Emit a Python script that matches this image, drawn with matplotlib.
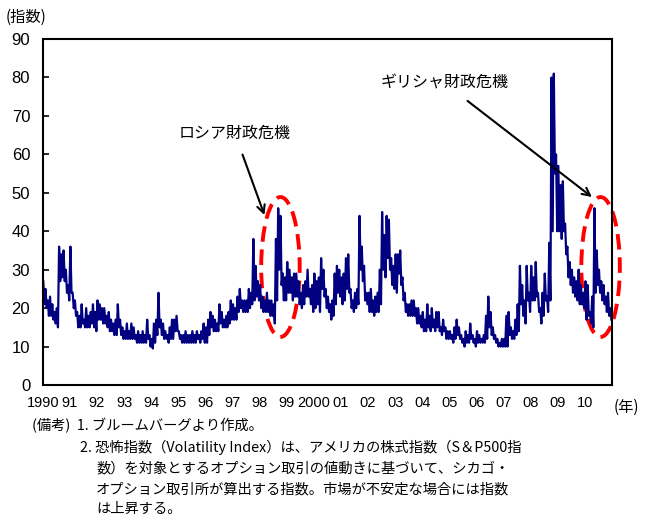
import matplotlib.pyplot as plt
import numpy as np
from matplotlib.patches import Ellipse

plt.rcParams['font.family'] = ['Noto Sans CJK JP', 'DejaVu Sans']

# VIX: two values per month (high, low), Jan..Dec
vix_1990 = [27, 21, 25, 20, 22, 18, 23, 18, 21, 17, 19, 16, 20, 15, 36, 27, 34, 28, 35, 27, 30, 24, 26, 22]
vix_1991 = [36, 24, 24, 20, 22, 18, 19, 15, 18, 15, 21, 16, 17, 15, 20, 15, 18, 15, 19, 16, 21, 15, 19, 14]
vix_1992 = [22, 17, 21, 17, 20, 16, 20, 16, 18, 15, 19, 14, 17, 14, 16, 13, 17, 13, 21, 15, 17, 13, 15, 12]
vix_1993 = [14, 12, 16, 12, 14, 12, 16, 12, 15, 12, 13, 11, 14, 11, 13, 11, 14, 11, 13, 11, 17, 12, 13, 10]
vix_1994 = [12, 9.5, 16, 11, 17, 13, 24, 15, 17, 13, 16, 12, 14, 12, 13, 11, 15, 12, 17, 12, 17, 14, 18, 14]
vix_1995 = [14, 12, 13, 11, 13, 11, 14, 11, 13, 11, 13, 11, 14, 11, 13, 11, 14, 12, 13, 11, 14, 12, 16, 11]
vix_1996 = [15, 11, 17, 13, 19, 15, 18, 14, 17, 14, 16, 14, 21, 16, 19, 15, 17, 15, 18, 15, 19, 16, 22, 17]
vix_1997 = [21, 17, 20, 17, 23, 19, 25, 20, 22, 19, 22, 19, 22, 19, 25, 20, 24, 21, 38, 22, 31, 23, 27, 22]
vix_1998 = [26, 20, 23, 19, 22, 19, 24, 19, 22, 18, 22, 18, 21, 16, 38, 22, 46, 30, 44, 26, 29, 22, 28, 22]
vix_1999 = [32, 24, 30, 24, 28, 22, 29, 23, 29, 23, 27, 21, 24, 20, 26, 21, 27, 23, 30, 23, 25, 21, 26, 19]
vix_2000 = [29, 20, 27, 21, 28, 19, 33, 25, 30, 23, 25, 20, 23, 19, 21, 17, 22, 18, 29, 21, 31, 24, 30, 23]
vix_2001 = [28, 21, 29, 22, 33, 25, 34, 24, 25, 20, 22, 19, 24, 20, 25, 21, 44, 30, 36, 27, 31, 22, 24, 21]
vix_2002 = [24, 19, 25, 19, 22, 18, 23, 19, 24, 19, 30, 21, 45, 30, 39, 28, 44, 33, 43, 30, 33, 26, 31, 25]
vix_2003 = [34, 24, 34, 29, 35, 26, 28, 22, 24, 19, 21, 18, 21, 18, 22, 18, 22, 18, 20, 16, 20, 16, 18, 15]
vix_2004 = [19, 14, 17, 14, 21, 15, 18, 14, 20, 15, 17, 14, 19, 15, 19, 14, 15, 13, 17, 14, 15, 12, 14, 12]
vix_2005 = [14, 12, 13, 11, 15, 12, 17, 13, 15, 12, 13, 11, 12, 10, 14, 11, 13, 11, 16, 12, 13, 11, 12, 10]
vix_2006 = [14, 11, 13, 11, 12, 11, 13, 11, 18, 12, 23, 15, 19, 13, 15, 12, 13, 11, 12, 10, 11, 10, 12, 10]
vix_2007 = [12, 10, 18, 10, 19, 13, 15, 12, 14, 12, 17, 13, 21, 14, 31, 21, 26, 18, 22, 16, 31, 22, 24, 19]
vix_2008 = [31, 22, 28, 22, 32, 23, 24, 19, 20, 16, 24, 18, 29, 22, 23, 19, 37, 22, 80, 40, 81, 55, 60, 40]
vix_2009 = [57, 40, 52, 38, 53, 40, 42, 34, 36, 28, 32, 26, 30, 24, 28, 23, 27, 22, 30, 21, 26, 21, 24, 20]
vix_2010 = [27, 17, 26, 18, 19, 16, 23, 15, 46, 24, 35, 26, 30, 24, 27, 22, 26, 21, 23, 19, 24, 18, 20, 17]

years = list(range(1990, 2011))
yearly = [vix_1990, vix_1991, vix_1992, vix_1993, vix_1994, vix_1995, vix_1996,
          vix_1997, vix_1998, vix_1999, vix_2000, vix_2001, vix_2002, vix_2003,
          vix_2004, vix_2005, vix_2006, vix_2007, vix_2008, vix_2009, vix_2010]

tick_labels = ['1990', '91', '92', '93', '94', '95', '96', '97', '98', '99', '2000',
               '01', '02', '03', '04', '05', '06', '07', '08', '09', '10']

# build time axis: two points per month
t = []
v = []
for yr, vals in zip(years, yearly):
    for k, val in enumerate(vals):
        t.append(yr + (k + 0.5) / 24.0)
        v.append(val)
t = np.array(t)
v = np.array(v)

fig = plt.figure(figsize=(6.5, 5.17), dpi=100)
ax = fig.add_axes([0.0657, 0.2553, 0.8758, 0.6692])

ax.plot(t, v, color='#000080', lw=1.6)

ax.set_xlim(1990, 2011)
ax.set_ylim(0, 90)
ax.set_yticks(np.arange(0, 91, 10))
ax.set_xticks(years)
ax.set_xticklabels(tick_labels)

num_font = ['Liberation Sans', 'DejaVu Sans']
for lab in ax.get_yticklabels():
    lab.set_family(num_font)
    lab.set_fontsize(12)
for lab in ax.get_xticklabels():
    lab.set_family(num_font)
    lab.set_fontsize(10.5)

ax.tick_params(axis='y', direction='in', length=4, width=1.2, pad=9)
ax.tick_params(axis='x', length=0, pad=8)
for side in ['left', 'bottom', 'right', 'top']:
    ax.spines[side].set_linewidth(1.5)
    ax.spines[side].set_color('black')

# dashed ellipses marking the two crises
for cx in [1998.77, 2010.58]:
    e = Ellipse((cx, 30.7), 1.42, 36.4, fill=False, edgecolor='#ff0000',
                lw=2.8, linestyle=(0, (4, 2)), clip_on=False)
    ax.add_patch(e)

ax.annotate('ロシア財政危機', xy=(1998.18, 44.2), xytext=(1997.08, 65.6),
            ha='center', va='center', fontsize=11.5,
            arrowprops=dict(arrowstyle='->', color='black', lw=1.5,
                            shrinkA=8, shrinkB=0, mutation_scale=14))
ax.annotate('ギリシャ財政危機', xy=(2010.26, 48.9), xytext=(2004.81, 78.6),
            ha='center', va='center', fontsize=11.5,
            arrowprops=dict(arrowstyle='->', color='black', lw=1.5,
                            shrinkA=8, shrinkB=0, mutation_scale=14))

fig.text(6 / 650, 1 - 17 / 517, '(指数)', fontsize=11, ha='left', va='center')
fig.text(614 / 650, 1 - 407 / 517, '(年)', fontsize=11, ha='left', va='center')

notes = [
    (32, 426, '(備考)  1. ブルームバーグより作成。'),
    (80, 447, '2. 恐怖指数（Volatility Index）は、アメリカの株式指数（S＆P500指'),
    (96, 468, '数）を対象とするオプション取引の値動きに基づいて、シカゴ・'),
    (96, 489, 'オプション取引所が算出する指数。市場が不安定な場合には指数'),
    (96, 509, 'は上昇する。'),
]
for x, y, s in notes:
    fig.text(x / 650, 1 - y / 517, s, fontsize=10.3, ha='left', va='center')

fig.savefig('out.png', dpi=100)
